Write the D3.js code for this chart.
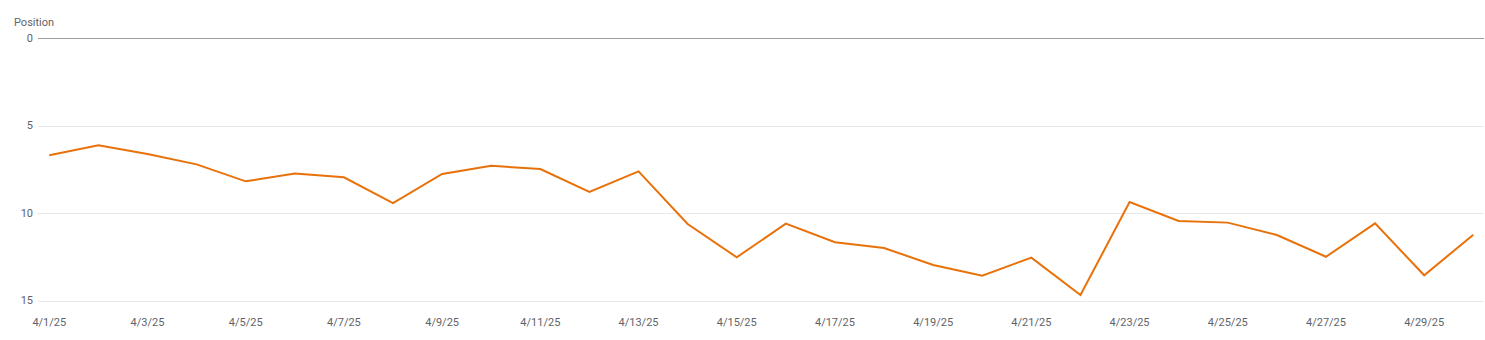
<!DOCTYPE html>
<html lang="en">
<head>
    <meta charset="UTF-8">
    <title>Position</title>
    <script src="https://cdn.jsdelivr.net/npm/d3@7"></script>
    <style>
        body { margin: 0; background: #fff; }
        text { font-family: Roboto, "Noto Sans", sans-serif; fill: #5f6368; }
    </style>
</head>
<body>
    <svg width="1485" height="340"></svg>
    <script>
        // April 2025, one value per day
        const days = d3.range(1, 31);
        const position = [
            6.70, 6.13, 6.63, 7.22, 8.19, 7.75, 7.96, 9.43, 7.77, 7.30,
            7.49, 8.80, 7.62, 10.63, 12.53, 10.61, 11.67, 12.00, 12.97, 13.58,
            12.55, 14.69, 9.37, 10.46, 10.55, 11.26, 12.50, 10.59, 13.56, 11.24
        ];
        const yTicks = [0, 5, 10, 15];

        const data = days.map((d, i) => ({ date: new Date(2025, 3, d), value: position[i] }));

        const svg = d3.select("svg");
        const left = 38, right = 1484;

        const x = d3.scaleTime()
            .domain([new Date(2025, 3, 1), new Date(2025, 3, 30)])
            .range([49.3, 1473.3]);

        const y = d3.scaleLinear()
            .domain([0, 15])
            .range([38, 300.5]);

        // gridlines
        svg.append("g")
            .selectAll("line")
            .data(yTicks)
            .join("line")
            .attr("x1", left)
            .attr("x2", right)
            .attr("y1", d => Math.round(y(d)) + 0.5)
            .attr("y2", d => Math.round(y(d)) + 0.5)
            .attr("stroke", d => d === 0 ? "#9e9e9e" : "#e8e8e8")
            .attr("stroke-width", 1);

        // y labels
        svg.append("g")
            .selectAll("text")
            .data(yTicks)
            .join("text")
            .attr("x", 33)
            .attr("y", d => y(d))
            .attr("dy", "0.35em")
            .attr("text-anchor", "end")
            .attr("font-size", 11)
            .text(d => d);

        svg.append("text")
            .attr("x", 14)
            .attr("y", 22)
            .attr("dy", "0.35em")
            .attr("font-size", 11)
            .text("Position");

        // x labels, every second day
        const fmt = d => `${d.getMonth() + 1}/${d.getDate()}/${String(d.getFullYear()).slice(2)}`;
        svg.append("g")
            .selectAll("text")
            .data(data.filter((d, i) => i % 2 === 0))
            .join("text")
            .attr("x", d => x(d.date))
            .attr("y", 322)
            .attr("dy", "0.35em")
            .attr("text-anchor", "middle")
            .attr("font-size", 11)
            .text(d => fmt(d.date));

        const line = d3.line()
            .x(d => x(d.date))
            .y(d => y(d.value));

        svg.append("path")
            .datum(data)
            .attr("fill", "none")
            .attr("stroke", "#e8710a")
            .attr("stroke-width", 2)
            .attr("stroke-linejoin", "miter")
            .attr("d", line);
    </script>
</body>
</html>
